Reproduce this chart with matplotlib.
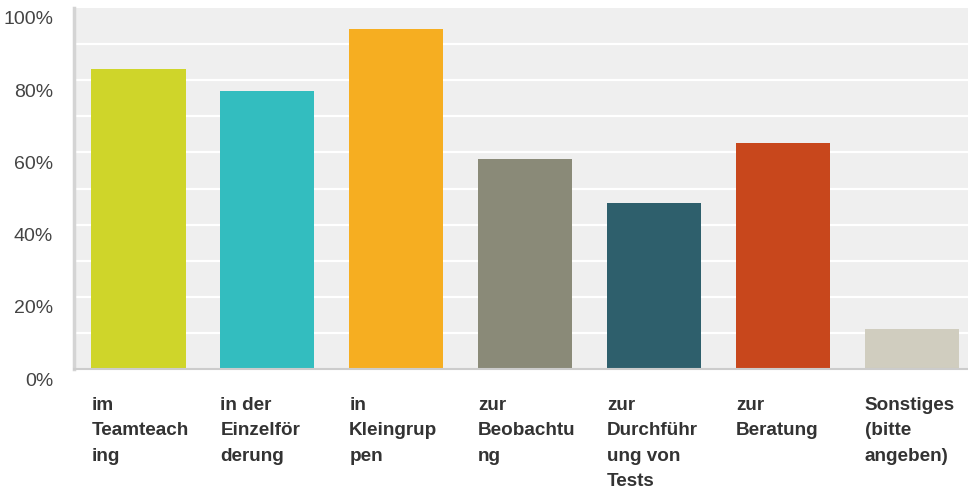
import numpy as np
import matplotlib.pyplot as plt
import matplotlib.transforms as mtrans

plt.rcParams['font.family'] = ['Liberation Sans', 'DejaVu Sans']

# datos
etiquetas = ['im\nTeamteach\ning', 'in der\nEinzelför\nderung', 'in\nKleingrup\npen',
             'zur\nBeobachtu\nng', 'zur\nDurchführ\nung von\nTests', 'zur\nBeratung',
             'Sonstiges\n(bitte\nangeben)']
valores = [83.1, 77.0, 94.2, 58.2, 46.0, 62.6, 11.1]
colores = ['#cfd52a', '#33bdbf', '#f6ae21', '#8a8a78', '#2e5f6c', '#c8471c', '#d0cdbf']
ticks_y = [0, 20, 40, 60, 80, 100]

fig = plt.figure(figsize=(9.68, 4.91), dpi=100)
ax = fig.add_axes([74/968, 122/491, 902.4/968, 361/491])
ax.set_facecolor('#efefef')

x = np.arange(len(valores))
ancho = 0.73
ax.bar(x, valores, width=ancho, color=colores, zorder=3)

ax.set_xlim(-0.5, 6.5)
ax.set_ylim(0, 100)

# lineas horizontales cada 10%
for yy in range(10, 100, 10):
    ax.axhline(yy, color='white', lw=1.6, zorder=1)

for s in ['top', 'right']:
    ax.spines[s].set_visible(False)
ax.spines['left'].set_color('#d4d4d4')
ax.spines['left'].set_linewidth(2.5)
ax.spines['bottom'].set_color('#cccccc')
ax.spines['bottom'].set_linewidth(1.5)
ax.spines['bottom'].set_zorder(4)

ax.set_xticks([])
ax.set_yticks(ticks_y)
ax.set_yticklabels([f'{t}%' for t in ticks_y], fontsize=14, color='#444444')
ax.tick_params(axis='y', length=0, pad=15)
desplaz = mtrans.ScaledTranslation(0, -10/100, fig.dpi_scale_trans)
for lab in ax.get_yticklabels():
    lab.set_transform(lab.get_transform() + desplaz)

trans = mtrans.blended_transform_factory(ax.transData, ax.transAxes)
for i in range(len(etiquetas)):
    ax.text(x[i] - ancho/2, -0.077, etiquetas[i], transform=trans, ha='left', va='top',
            fontsize=13.6, fontweight='bold', color='#333333', linespacing=1.65)

plt.savefig('out.png', dpi=100)
